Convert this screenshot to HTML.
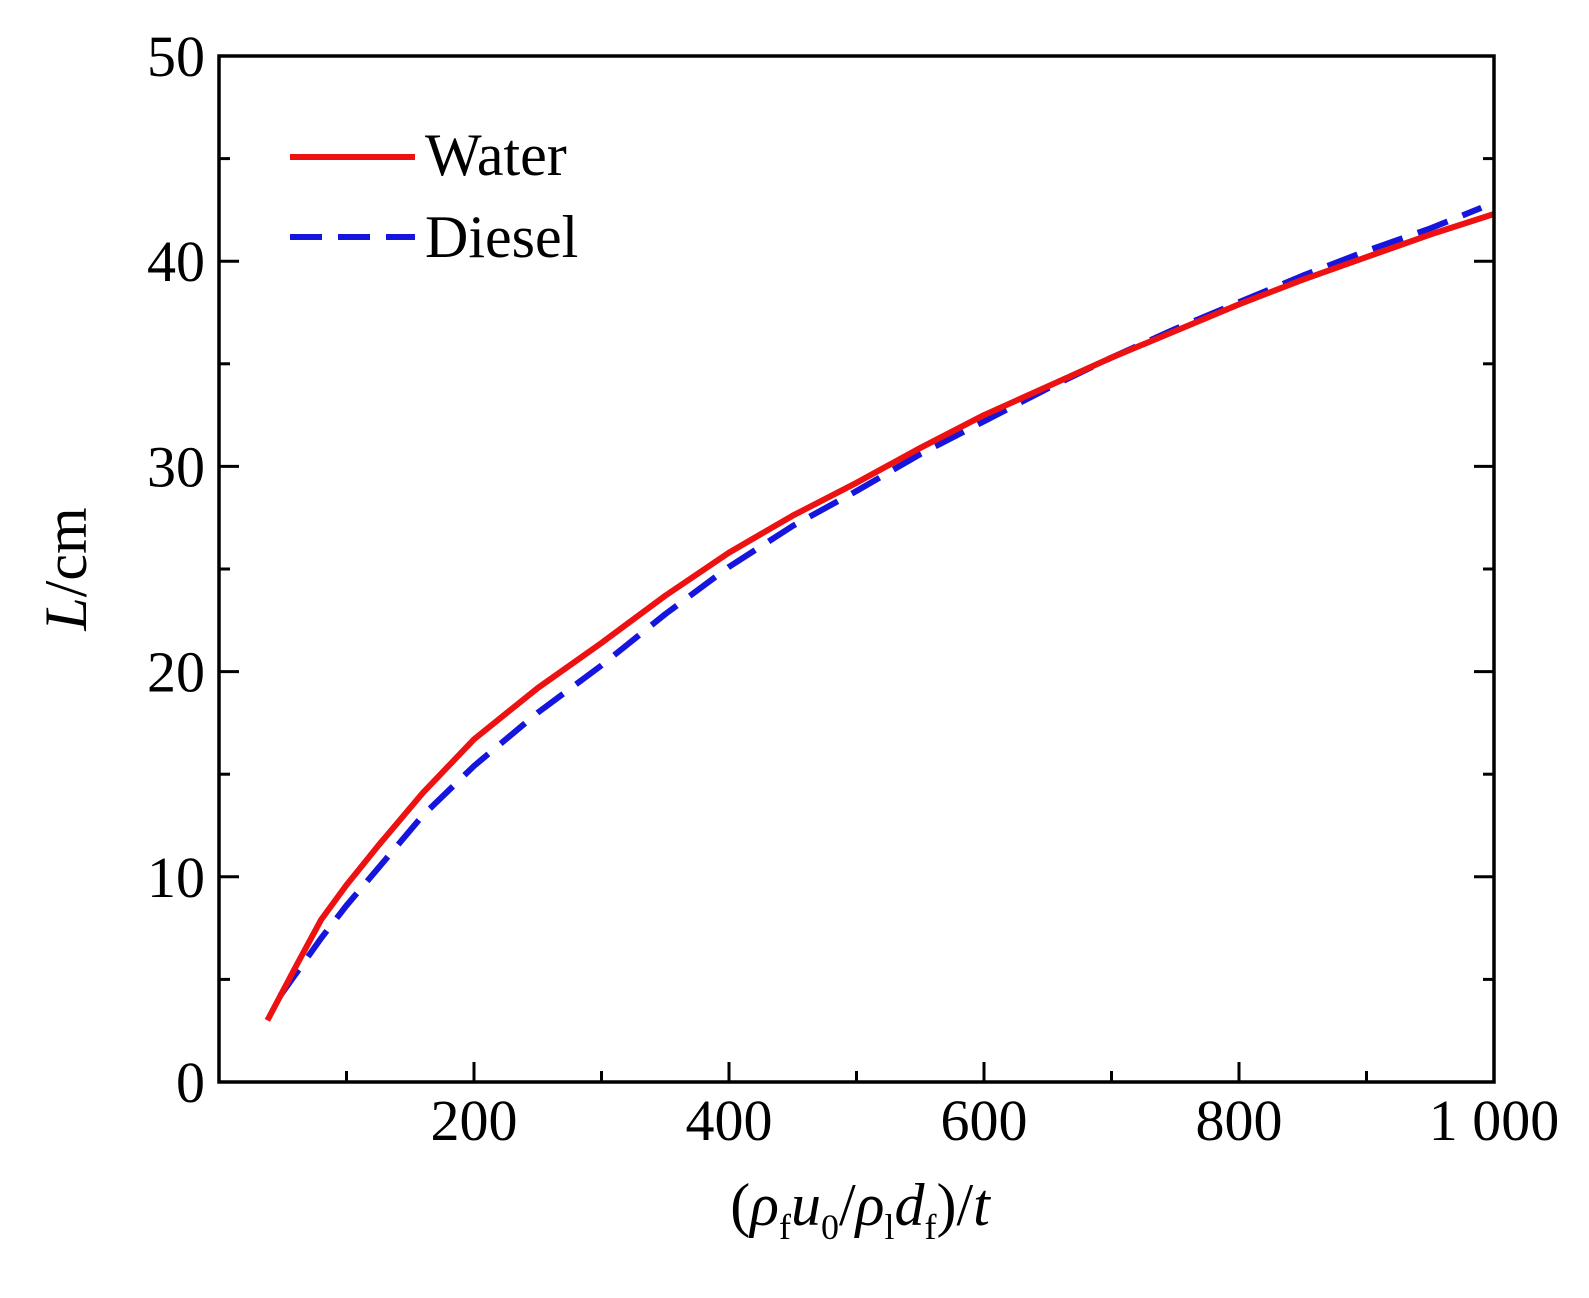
<!DOCTYPE html>
<html><head><meta charset="utf-8"><style>body{margin:0;background:#fff}svg{display:block}text{font-family:"Liberation Serif",serif;fill:#000}</style></head>
<body>
<svg id="chart" width="1589" height="1298" viewBox="0 0 1589 1298">
<g id="ticks"></g>
<g id="lines"></g>
<rect x="219" y="56" width="1275" height="1026" fill="none" stroke="#000" stroke-width="3.5"/>
<g>
<line x1="290" y1="157" x2="415" y2="157" stroke="#ee1111" stroke-width="6"/>
<text x="425" y="175" font-size="60">Water</text>
<line x1="290" y1="237" x2="415" y2="237" stroke="#1515dd" stroke-width="6" stroke-dasharray="32,16"/>
<text x="425" y="257" font-size="60">Diesel</text>
</g>
<text transform="translate(86,569) rotate(-90)" text-anchor="middle" font-size="60"><tspan font-style="italic">L</tspan>/cm</text>
<text x="860" y="1225" text-anchor="middle" font-size="60">(<tspan font-style="italic">ρ</tspan><tspan font-size="36" dy="14">f</tspan><tspan font-style="italic" dy="-14">u</tspan><tspan font-size="36" dy="14">0</tspan><tspan dy="-14">/</tspan><tspan font-style="italic">ρ</tspan><tspan font-size="36" dy="14">l</tspan><tspan font-style="italic" dy="-14">d</tspan><tspan font-size="36" dy="14">f</tspan><tspan dy="-14">)/</tspan><tspan font-style="italic">t</tspan></text>
</svg>
<script>
const xTicks=[200,400,600,800,1000];
const xTickLabels=["200","400","600","800","1 000"];
const yTicks=[0,10,20,30,40,50];
const waterX=[38,60,80,100,126,160,200,250,300,350,400,450,500,550,600,650,700,750,800,850,900,950,1000];
const waterY=[3.0,5.6,7.9,9.6,11.6,14.1,16.7,19.2,21.4,23.7,25.8,27.6,29.2,30.9,32.5,33.9,35.3,36.6,37.9,39.1,40.2,41.3,42.3];
const dieselX=[48,80,100,126,160,200,250,300,350,400,450,500,550,600,650,700,750,800,850,900,950,990];
const dieselY=[4.2,7.0,8.6,10.5,13.0,15.4,18.0,20.3,22.8,25.1,27.1,28.8,30.6,32.2,33.8,35.3,36.7,38.0,39.3,40.5,41.6,42.6];
const X=v=>219+v*1.275, Y=v=>1082-v*20.52;
const NS="http://www.w3.org/2000/svg";
const tg=document.getElementById('ticks'), lg=document.getElementById('lines');
function mk(tag,attrs,parent){const e=document.createElementNS(NS,tag);for(const k in attrs)e.setAttribute(k,attrs[k]);parent.appendChild(e);return e;}
for(let v=100;v<1000;v+=100){const major=v%200===0;const L=major?20:11;
 const t1=mk('line',{x1:X(v),x2:X(v),y1:1082,y2:1082-L,stroke:'#000','stroke-width':3},tg);
 
 }
xTicks.forEach((v,i)=>{const t=mk('text',{x:X(v),y:1140,'text-anchor':'middle','font-size':58},tg);t.textContent=xTickLabels[i];
 
 });
for(let v=5;v<50;v+=5){const major=v%10===0;const L=major?20:11;
 const t1=mk('line',{x1:219,x2:219+L,y1:Y(v),y2:Y(v),stroke:'#000','stroke-width':3},tg);
 
 
 const t2=mk('line',{x1:1494,x2:1494-L,y1:Y(v),y2:Y(v),stroke:'#000','stroke-width':3},tg);
 
 }
yTicks.forEach(v=>{const t=mk('text',{x:205,y:Y(v)+20,'text-anchor':'end','font-size':58},tg);t.textContent=String(v);
 
 });
function path(xs,ys){return xs.map((x,i)=>(i?'L':'M')+X(x).toFixed(1)+','+Y(ys[i]).toFixed(1)).join(' ');}
const d=mk('path',{d:path(dieselX,dieselY),fill:'none',stroke:'#1515dd','stroke-width':6,'stroke-dasharray':'32,16','stroke-linejoin':'round'},lg);


const w=mk('path',{d:path(waterX,waterY),fill:'none',stroke:'#ee1111','stroke-width':6,'stroke-linejoin':'round'},lg);


</script>
</body></html>
